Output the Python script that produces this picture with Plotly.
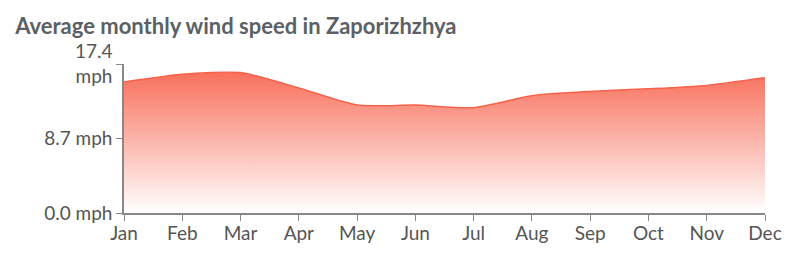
import plotly.graph_objects as go

months = ["Jan", "Feb", "Mar", "Apr", "May", "Jun", "Jul", "Aug", "Sep", "Oct", "Nov", "Dec"]
wind_mph = [15.3, 16.2, 16.4, 14.6, 12.6, 12.6, 12.3, 13.7, 14.2, 14.5, 14.9, 15.8]
y_ticks = [0, 8.7, 17.4]
y_tick_labels = ["0.0 mph", "8.7 mph", "17.4<br>mph"]

fig = go.Figure()
fig.add_trace(go.Scatter(
    x=months, y=wind_mph, mode="lines",
    line=dict(color="#f5624a", width=1.5, shape="spline", smoothing=0.6),
    fill="tozeroy",
    fillgradient=dict(type="vertical",
                      colorscale=[[0, "rgba(255,255,255,1)"], [1, "rgb(248,112,92)"]]),
    hoverinfo="skip",
))

font_family = "Lato, 'Open Sans', sans-serif"
tick_font = dict(family=font_family, size=19, color="#555555")
fig.update_layout(
    width=798, height=276,
    margin=dict(l=124, r=33, t=64, b=63),
    paper_bgcolor="white", plot_bgcolor="white",
    showlegend=False,
    title=dict(text="<b>Average monthly wind speed in Zaporizhzhya</b>",
               x=0.019, xanchor="left", y=0.905, yanchor="middle",
               font=dict(family=font_family, size=22, color="#5b5f66")),
    font=dict(family=font_family, size=19, color="#555555"),
    xaxis=dict(range=[0, 11], showgrid=False, showline=True, linecolor="#888",
               linewidth=1.5, ticks="outside", ticklen=6, tickcolor="#888",
               tickfont=tick_font, zeroline=False, ticklabelstandoff=-4),
    yaxis=dict(range=[0, 17.4], tickvals=y_ticks, ticktext=y_tick_labels,
               showgrid=False, showline=True, linecolor="#888", linewidth=1.5,
               ticks="outside", ticklen=6, tickcolor="#888",
               tickfont=tick_font, zeroline=False),
)

fig.write_html("out.html")
